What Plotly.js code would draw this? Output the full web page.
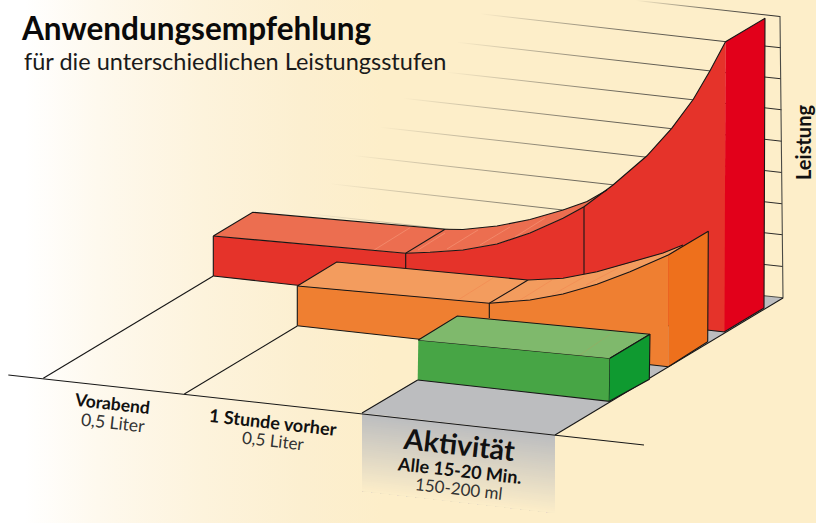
<!DOCTYPE html>
<html><head><meta charset="utf-8">
<script src="https://cdn.plot.ly/plotly-3.0.1.min.js"></script>
<style>html,body{margin:0;padding:0;background:#fff}#c{width:816px;height:523px}</style>
</head><body><div id="c"></div>
<script>
// ---- data (chart coordinates) ----
const pageX=[0,816,816,0], pageY=[0,0,523,523];

const floorX=[362,555,783,590], floorY=[413,435,298,276];
const fadeX=[362,555], fadeY=[413,435], fadeDepth=78;

const gridLeftX=[636,480,456.7,446.7,403,380,353,330,306];
const gridLeftY=[0,13.3,41.7,71.7,97.7,126.7,155,183.3,213];
const gridRightX=[780,781,781,781.5,782,782,782,782.5,783];
const gridRightY=[16,47.3,78.3,109.3,140.7,172,203.3,234.3,266];

const wallEdgeX=[780,783,764], wallEdgeY=[16,297.7,295.7];

const groundX=[8.3,644], groundY=[375,445];
const guide1X=[43.3,213.3], guide1Y=[378.3,276];
const guide2X=[184.3,297.3], guide2Y=[394,326];
const guide3X=[362,417.7], guide3Y=[413,380];
const guide4X=[555,783], guide4Y=[435,298];

// red (Vorabend -> 1 Stunde -> Aktivitaet)
const redCurveFrontX=[405.7,430,463,497,530,563,584,597,613,646.7,671.7,693.3,710,725.5];
const redCurveFrontY=[253.3,252.3,250,244,233,218.3,206.7,197,185,156,128.3,99.3,70.7,41.7];
const redCurveBackX=[445,463,497,530,563,587,607];
const redCurveBackY=[229.3,229.5,226,219.5,210,201.5,190];
const redFlatTopX=[213.3,252.7,445,405.7], redFlatTopY=[236,212.3,229.3,253.3];
const redFrontLeftX=[213.3,213.3], redFrontLeftY=[276,236];
const redFrontBottomX=[725,213.3], redFrontBottomY=[332,276];
const redSideX=[725.5,765,764,724.5], redSideY=[41.7,18.3,308,331.7];
const redDiv1X=[405.7,405.7], redDiv1Y=[253.3,270];
const redDiv2X=[584,584], redDiv2Y=[206.7,275];
const redHairX=[[373,410],[418,445],[447,478],[480,510],[515,545]];
const redHairY=[[250.7,227.7],[250,233],[249,230],[245,227],[237,218]];

// orange
const orangeFlatTopX=[297.3,336.7,528,489.3], orangeFlatTopY=[286,262,280,303.3];
const orangeCurveFrontX=[489.3,530,563,597,630,650,668.3];
const orangeCurveFrontY=[303.3,300,294,284.3,271.7,263.3,255];
const orangeCurveBackX=[528,563,597,630,663,683];
const orangeCurveBackY=[280,278.3,271.7,262.7,253,245];
const orangeFrontLeftX=[297.3,297.3], orangeFrontLeftY=[325.7,286];
const orangeFrontBottomX=[668.3,297.3], orangeFrontBottomY=[366.7,325.7];
const orangeSideX=[668.3,708.3,707.7,668.3], orangeSideY=[255,231.3,341.7,366.7];
const orangeDivX=[489.3,489.3], orangeDivY=[303.3,318];
const orangeHairX=[[458,493],[520,552],[552,584],[586,618]];
const orangeHairY=[[300,278],[300,280],[295,277],[285,268]];

// green
const greenTopX=[418.3,457.3,650,610], greenTopY=[340,316,334.3,358.3];
const greenFrontX=[418.3,610,609.3,417.7], greenFrontY=[340,358.3,401.3,380];
const greenSideX=[610,650,649.3,609.3], greenSideY=[358.3,334.3,379.3,401.3];
const greenHairX=[580,611.7], greenHairY=[355,333];

const titleText='Anwendungsempfehlung';
const subtitleText='für die unterschiedlichen Leistungsstufen';
const yAxisText='Leistung';
const phaseNames=['Vorabend','1 Stunde vorher','Aktivität'];
const phaseDoses=['0,5 Liter','0,5 Liter','150-200 ml'];
const activityInterval='Alle 15-20 Min.';

// ---- styles ----
const BG='#FDEEC9', GREY='#BCBDBF', INK='#161616';
const RED_TOP='#EC6E50', RED='#E5332A', RED_SIDE='#E2001A';
const OR_TOP='#F39C5E', OR='#EF7F31', OR_SIDE='#EE701C';
const GR_TOP='#7FB96C', GR='#47A545', GR_SIDE='#0F9A30';
const FONT='Lato, "Noto Sans", sans-serif';

const traces=[];
function area(x,y,fill,stroke){
  traces.push({type:'scatter',mode:'lines',x:x,y:y,fill:'toself',fillcolor:fill,
    line:{color:stroke||fill,width:stroke?1.1:0},hoverinfo:'skip',showlegend:false});
}
function stroke(x,y,w,c){
  traces.push({type:'scatter',mode:'lines',x:x,y:y,line:{color:c||INK,width:w||1.1},
    hoverinfo:'skip',showlegend:false});
}
function rev(a){return a.slice().reverse();}
function hex(c){return [1,3,5].map(i=>parseInt(c.substr(i,2),16));}
function mix(a,b,t){const A=hex(a),B=hex(b);return 'rgb('+A.map((v,i)=>Math.round(v+(B[i]-v)*t)).join(',')+')';}

// background
traces.push({type:'scatter',mode:'lines',x:pageX.concat(pageX[0]),y:pageY.concat(pageY[0]),fill:'toself',
  line:{width:0},hoverinfo:'skip',showlegend:false,
  fillgradient:{type:'horizontal',colorscale:[[0,'#FFFFFF'],[0.03,'#FFFFFF'],[0.12,'#FEF9EE'],[0.25,'#FDF3DC'],[0.37,'#FCEFD0'],[0.47,BG],[1,BG]]}});

// grey fade below the activity column
const steps=39;
for(let k=0;k<=steps;k++){
  const d=fadeDepth*k/steps;
  const x=[fadeX[0],fadeX[1],fadeX[1],fadeX[0]];
  const y=[fadeY[0]+d,fadeY[1]+d,fadeY[1]+fadeDepth,fadeY[0]+fadeDepth];
  area(x,y,mix(GREY,BG,k/steps));
}

// back wall grid, fading out to the left
gridLeftX.forEach((x0,i)=>{
  const x=[x0,gridRightX[i],gridRightX[i],x0], y=[gridLeftY[i],gridRightY[i],gridRightY[i]+1,gridLeftY[i]+1];
  traces.push({type:'scatter',mode:'lines',x:x,y:y,fill:'toself',line:{width:0},hoverinfo:'skip',showlegend:false,
    fillgradient:{type:'horizontal',colorscale:[[0,'rgba(40,40,40,0)'],[0.5,'rgba(40,40,40,0.65)'],[1,'rgba(30,30,30,0.95)']]}});
});

// floor
area(floorX,floorY,GREY);
stroke(wallEdgeX,wallEdgeY,1.1,'#4a4a45');

// ground lines
stroke(groundX,groundY);
stroke(guide1X,guide1Y);
stroke(guide2X,guide2Y);
stroke(guide3X,guide3Y);
stroke(guide4X,guide4Y);

// red block
area(redFrontLeftX.concat(redFlatTopX[3]).concat(redCurveFrontX).concat(redFrontBottomX),
     redFrontLeftY.concat(redFlatTopY[3]).concat(redCurveFrontY).concat(redFrontBottomY),RED);
area(redFlatTopX,redFlatTopY,RED_TOP);
area(redCurveFrontX.slice(0,9).concat(rev(redCurveBackX)),redCurveFrontY.slice(0,9).concat(rev(redCurveBackY)),RED_TOP);
redHairX.forEach((x,i)=>stroke(x,redHairY[i],0.6,'rgba(255,190,160,0.55)'));
area(redSideX,redSideY,RED_SIDE,INK);
stroke(redFlatTopX.concat(redFlatTopX[0]),redFlatTopY.concat(redFlatTopY[0]));
stroke(redCurveFrontX,redCurveFrontY);
stroke(redCurveBackX,redCurveBackY);
stroke(redFrontLeftX,redFrontLeftY);
stroke(redFrontBottomX,redFrontBottomY);
stroke(redDiv1X,redDiv1Y);
stroke(redDiv2X,redDiv2Y);

// orange block
area(orangeFrontLeftX.concat(orangeFlatTopX[3]).concat(orangeCurveFrontX).concat(orangeFrontBottomX),
     orangeFrontLeftY.concat(orangeFlatTopY[3]).concat(orangeCurveFrontY).concat(orangeFrontBottomY),OR);
area(orangeFlatTopX,orangeFlatTopY,OR_TOP);
area(orangeCurveFrontX.concat(rev(orangeCurveBackX)),orangeCurveFrontY.concat(rev(orangeCurveBackY)),OR_TOP);
orangeHairX.forEach((x,i)=>stroke(x,orangeHairY[i],0.6,'rgba(240,120,70,0.6)'));
area(orangeSideX,orangeSideY,OR_SIDE,INK);
stroke(orangeFlatTopX.concat(orangeFlatTopX[0]),orangeFlatTopY.concat(orangeFlatTopY[0]));
stroke(orangeCurveFrontX,orangeCurveFrontY);
stroke(orangeCurveBackX,orangeCurveBackY);
stroke(orangeFrontLeftX,orangeFrontLeftY);
stroke(orangeFrontBottomX,orangeFrontBottomY);
stroke(orangeDivX,orangeDivY);

// green block
area(greenFrontX,greenFrontY,GR,INK);
area(greenTopX,greenTopY,GR_TOP,INK);
stroke(greenHairX,greenHairY,0.6,'rgba(170,160,90,0.6)');
area(greenSideX,greenSideY,GR_SIDE,INK);

function label(text,x,y,size,bold,angle,color,anchor){
  return {text:bold?'<b>'+text+'</b>':text,x:x,y:y,xref:'x',yref:'y',showarrow:false,
    font:{family:FONT,size:size,color:color||'#111'},textangle:angle,xanchor:anchor||'center',yanchor:'middle'};
}
const SK=6.4;
const annotations=[
  label(subtitleText,22,61,23.5,false,0,'#1a1a1a','left'),
  label(yAxisText,803,143,20,true,-90),
  label(phaseNames[0],112,403,17.5,true,SK),
  label(phaseDoses[0],113,422,17.5,false,SK,'#333'),
  label(phaseNames[1],273,422,18,true,SK),
  label(phaseDoses[1],273,440,17,false,SK,'#333'),
  label(phaseNames[2],459,444,28.5,true,SK),
  label(activityInterval,459,470,18,true,SK),
  label(phaseDoses[2],459,488,17,false,SK,'#333')
];

Plotly.newPlot('c',traces,{
  width:816,height:523,margin:{l:0,r:0,t:0,b:0,pad:0},showlegend:false,
  paper_bgcolor:'#fff',plot_bgcolor:'#fff',
  title:{text:'<b>'+titleText+'</b>',x:22/816,xref:'paper',xanchor:'left',y:1-29/523,yref:'paper',yanchor:'middle',
    font:{family:FONT,size:31.5,color:'#0a0a0a'}},
  xaxis:{range:[0,816],visible:false,fixedrange:true},
  yaxis:{range:[523,0],visible:false,fixedrange:true},
  annotations:annotations
},{displayModeBar:false,staticPlot:true});
</script></body></html>
